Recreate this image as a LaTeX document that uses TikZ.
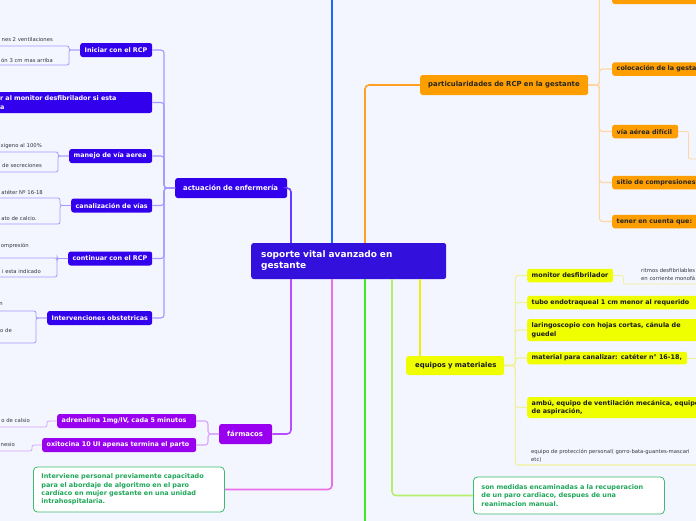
\documentclass[tikz,border=0pt]{standalone}
\usepackage{fontspec}
\setmainfont{DejaVu Sans}
\usetikzlibrary{calc}
\definecolor{bg}{HTML}{F3F6FE}
\definecolor{cCen}{HTML}{3410DD}
\definecolor{cBlueN}{HTML}{3300EE}
\definecolor{cOrN}{HTML}{FF9E00}
\definecolor{cYelN}{HTML}{EFFF00}
\definecolor{cVioN}{HTML}{9A00F0}
\definecolor{cBlueT}{HTML}{1F66FF}
\definecolor{cOrT}{HTML}{FFA024}
\definecolor{cOrL}{HTML}{FFD6A0}
\definecolor{cPurT}{HTML}{6A3BFF}
\definecolor{cLav}{HTML}{A597FF}
\definecolor{cVioT}{HTML}{B84DFF}
\definecolor{cVioL}{HTML}{D9A3FF}
\definecolor{cMag}{HTML}{EC6FEA}
\definecolor{cGrn}{HTML}{3FEA1F}
\definecolor{cLGrn}{HTML}{B4F06A}
\definecolor{cYelT}{HTML}{EEEE10}
\definecolor{cYelL}{HTML}{F1F19A}
\definecolor{cGrB}{HTML}{3DBB6E}
\definecolor{cGrT}{HTML}{1FA65A}
\definecolor{cLeaf}{HTML}{33333F}
\begin{document}
\begin{tikzpicture}[x=1pt,y=-1pt,
  nd/.style={rounded corners=2.5pt, inner ysep=0pt, align=left, anchor=west,
    font=\fontsize{6.4}{8.3}\selectfont\bfseries},
  blu/.style={nd, fill=cBlueN, text=white, inner xsep=4.5pt, minimum height=14pt},
  ora/.style={nd, fill=cOrN, text=black!85, inner xsep=4.5pt, minimum height=13.5pt},
  yel/.style={nd, fill=cYelN, text=black!90, inner xsep=4.5pt, minimum height=13.5pt},
  vio/.style={nd, fill=cVioN, text=white, inner xsep=4.5pt, minimum height=14pt},
  top/.style={nd, font=\fontsize{6.9}{8.5}\selectfont\bfseries, minimum height=20pt, inner xsep=8pt},
  grn/.style={nd, fill=white, draw=cGrB, line width=0.8pt, text=cGrT, rounded corners=4pt,
    inner xsep=8pt, font=\fontsize{6.5}{8.4}\selectfont\bfseries},
  leaf/.style={inner sep=0pt, text=cLeaf, align=left, font=\fontsize{5.3}{8}\selectfont},
  trunk/.style={line width=1.6pt, rounded corners=4pt},
  sub/.style={line width=1.1pt, rounded corners=3pt},
  lf/.style={line width=0.8pt, rounded corners=2pt}
]
\clip (0,0) rectangle (696,520);
\fill[bg] (-5,-5) rectangle (701,525);

% ---------- free coordinates ----------
\coordinate (tB) at (332,-3);
\coordinate (oX) at (365,0);
\coordinate (gB) at (365,523);
\coordinate (lgX) at (392,0);
\coordinate (yX) at (420,0);

% ---------- nodes ----------
\node[nd, fill=cCen, text=white, inner xsep=10pt, text width=175pt, minimum height=36pt,
  font=\fontsize{9}{11}\selectfont\bfseries] (c) at (251,261) {soporte vital avanzado en\\gestante};

\node[top, fill=cBlueN, text=white, text width=96pt] (act) at (175,188) {\mbox{actuación de enfermería}};
\node[top, fill=cOrN, text=black!85, text width=152pt] (part) at (420,85) {\mbox{particularidades de RCP en la gestante}};
\node[top, fill=cYelN, text=black!90, inner xsep=9pt, text width=80pt, minimum height=19pt] (eq) at (406,365.5) {\mbox{equipos y materiales}};
\node[top, fill=cVioN, text=white, text width=37pt] (far) at (219,434) {\mbox{fármacos}};

% actuación children
\node[blu, text width=63pt] (ini) at (80,50) {\mbox{Iniciar con el RCP}};
\node[blu, text width=147.5pt, minimum height=21pt] (con) at (-4.5,102.5) {r al monitor desfibrilador si esta\\a};
\node[blu, text width=74pt] (man) at (69,156) {\mbox{manejo de vía aerea}};
\node[blu, text width=72pt] (can) at (71,205.5) {\mbox{canalización de vías}};
\node[blu, text width=75pt] (cont) at (68,258.5) {\mbox{continuar con el RCP}};
\node[blu, text width=96pt] (int) at (47,318) {\mbox{Intervenciones obstetricas}};

% particularidades children
\node[ora, text width=99pt, minimum height=16pt] (tp) at (612,-4) {};
\node[ora, text width=99pt] (col) at (612,69) {\mbox{colocación de la gestante}};
\node[ora, text width=57pt] (via) at (612,131.5) {\mbox{vía aérea difícil}};
\node[ora, text width=99pt] (sit) at (612,182.5) {\mbox{sitio de compresiones}};
\node[ora, text width=99pt] (ten) at (612,221.5) {\mbox{tener en cuenta que:}};

% equipos children
\node[yel, text width=77pt] (mon) at (527,275.5) {\mbox{monitor desfibrilador}};
\node[yel, text width=175pt] (tub) at (527,302.5) {\mbox{tubo endotraqueal 1 cm menor al requerido}};
\node[yel, text width=175pt, minimum height=22pt] (lar) at (527,330) {laringoscopio con hojas cortas, cánula de\\guedel};
\node[yel, text width=151pt, minimum height=12.5pt] (mat) at (527,358) {\mbox{material para canalizar: catéter n° 16-18,}};
\node[yel, text width=190pt, minimum height=21pt] (amb) at (527,407.5) {ambú, equipo de ventilación mecánica, equipo\\de aspiración,};

% fármacos children
\node[vio, text width=130pt] (adr) at (57,421) {\mbox{adrenalina 1mg/IV, cada 5 minutos}};
\node[vio, text width=145pt] (oxi) at (42,445) {\mbox{oxitocina 10 UI apenas termina el parto}};

% green boxes
\node[grn, text width=175pt, minimum height=45pt] (inter) at (33,489.5) {Interviene personal previamente capacitado\\para el abordaje de algoritmo en el paro\\cardíaco en mujer gestante en una unidad\\intrahospitalaria.};
\node[grn, text width=175pt, minimum height=37pt] (son) at (473,495.5) {son medidas encaminadas a la recuperacion\\de un paro cardiaco, despues de una\\reanimacion manual.};

% leaves
\node[leaf, anchor=east] (t1) at (53,40) {nes 2 ventilaciones};
\node[leaf, anchor=east] (t2) at (53,60) {ón 3 cm mas arriba};
\node[leaf, anchor=east] (t3) at (42,146) {xigeno al 100\%};
\node[leaf, anchor=east] (t4) at (42,166) {de secreciones};
\node[leaf, anchor=east] (t5) at (43,192) {atéter Nº 16-18};
\node[leaf, anchor=east] (t6) at (37,219) {ato de calcio.};
\node[leaf, anchor=east] (t7) at (29,246) {ompresión};
\node[leaf, anchor=east] (t8) at (41,272) {i esta indicado};
\node[leaf, anchor=east] (t9) at (3,304) {n};
\node[leaf, anchor=east] (t10) at (12,331) {o de};
\node[leaf, anchor=east] (t11) at (30,421) {o de calsio};
\node[leaf, anchor=east] (t12) at (15,445) {nesio};
\node[leaf, anchor=west] (r1) at (641,275) {ritmos desfibrilables\\en corriente monofá};
\node[leaf, anchor=west] (r2) at (531,456) {equipo de protección personal( gorro-bata-guantes-mascari\\etc)};

% leaf line ends
\coordinate (iL1) at (-3,46);   \coordinate (iL2) at (-3,65);
\coordinate (mL1) at (-3,152);  \coordinate (mL2) at (-3,172);
\coordinate (cL1) at (-3,198);  \coordinate (cL2) at (-3,224);
\coordinate (kL1) at (-3,258);  \coordinate (kL2) at (-3,277);
\coordinate (nL1) at (-3,311);  \coordinate (nL2) at (-3,343);
\coordinate (aL) at (-3,427);   \coordinate (oL) at (-3,451);
\coordinate (monE) at (700,284);
\coordinate (viaE) at (700,159);
\coordinate (eqE) at (700,465);

% ---------- connectors ----------
\draw[trunk, cBlueT] (c.north -| tB) -- (tB);
\draw[trunk, cOrT] (c.north -| oX) |- (part.west);
\draw[trunk, cPurT] (act.east) -| ($(c.north west)+(40,0)$);
\draw[trunk, cVioT] ($(c.south west)+(40,0)$) |- (far.east);
\draw[trunk, cMag] (c.south -| tB) |- (inter.east);
\draw[trunk, cGrn] (c.south -| gB) -- (gB);
\draw[trunk, cLGrn] (c.south -| lgX) |- (son.west);
\draw[trunk, cYelT] (c.south -| yX) -- (eq.north -| yX);

\foreach \n in {ini,con,man,can,cont,int}
  \draw[sub, cLav] (act.west) -- ++(-11,0) |- (\n.east);
\foreach \n in {tp,col,via,sit,ten}
  \draw[sub, cOrL] (part.east) -- ++(11,0) |- (\n.west);
\foreach \n in {mon,tub,lar,mat,amb,eqE}
  \draw[sub, cYelL] (eq.east) -- ++(11,0) |- (\n.west);
\foreach \n in {adr,oxi}
  \draw[sub, cVioL] (far.west) -- ++(-11,0) |- (\n.east);

\foreach \p/\a/\b in {ini/iL1/iL2, man/mL1/mL2, can/cL1/cL2, cont/kL1/kL2, int/nL1/nL2}{
  \draw[lf, cLav] (\p.west) -- ++(-11,0) |- (\a);
  \draw[lf, cLav] (\p.west) -- ++(-11,0) |- (\b);
}
\draw[lf, cVioL] (adr.west) -- ++(-10,0) |- (aL);
\draw[lf, cVioL] (oxi.west) -- ++(-10,0) |- (oL);
\draw[lf, cYelL] (mon.east) -- ++(10,0) |- (monE);
\draw[lf, cOrL] (via.east) -- ++(10,0) |- (viaE);
\draw[lf, cYelL] (mat.east) -- (mat.east -| viaE);
\end{tikzpicture}
\end{document}
